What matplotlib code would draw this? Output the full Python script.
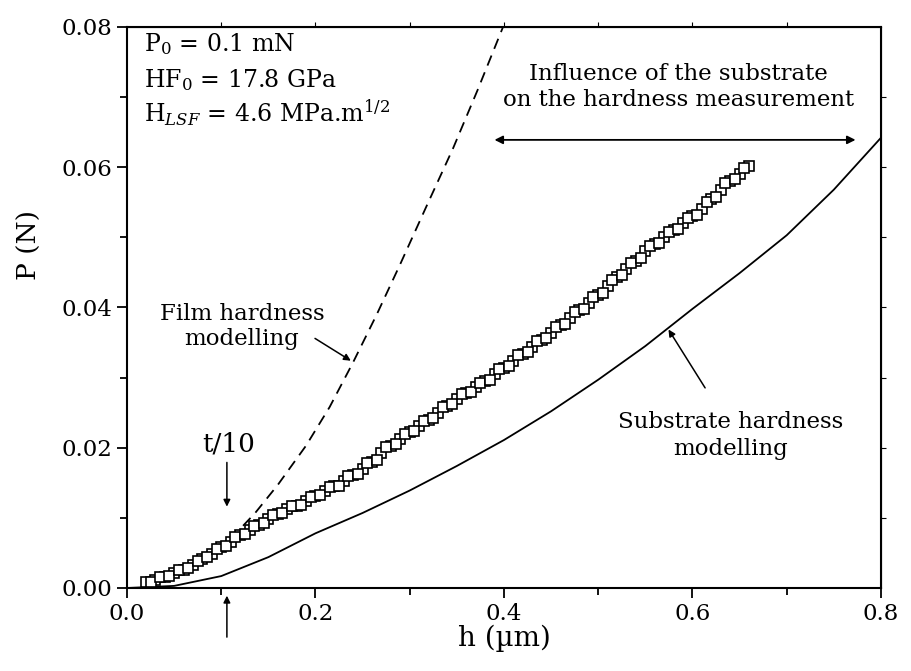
import matplotlib
matplotlib.use("Agg")
import matplotlib.pyplot as plt
import numpy as np

plt.rcParams['font.family'] = ['DejaVu Serif']
plt.rcParams['mathtext.fontset'] = 'dejavuserif'

# Datos experimentales (cuadrados)
h_exp = [0.02, 0.03, 0.04, 0.05, 0.06, 0.07, 0.08, 0.09, 0.10, 0.11,
         0.12, 0.13, 0.14, 0.15, 0.16, 0.17, 0.18, 0.19, 0.20, 0.21,
         0.22, 0.23, 0.24, 0.25, 0.26, 0.27, 0.28, 0.29, 0.30, 0.31,
         0.32, 0.33, 0.34, 0.35, 0.36, 0.37, 0.38, 0.39, 0.40, 0.41,
         0.42, 0.43, 0.44, 0.45, 0.46, 0.47, 0.48, 0.49, 0.50, 0.51,
         0.52, 0.53, 0.54, 0.55, 0.56, 0.57, 0.58, 0.59, 0.60, 0.61,
         0.62, 0.63, 0.64, 0.65, 0.66]
P_exp = [0.0008, 0.0012, 0.0016, 0.0021, 0.0026, 0.0033, 0.0041, 0.0049, 0.0058, 0.0066,
         0.0075, 0.0083, 0.0090, 0.0098, 0.0105, 0.0112, 0.0117, 0.0124, 0.0131, 0.0138,
         0.0145, 0.0152, 0.0161, 0.0170, 0.0180, 0.0193, 0.0203, 0.0212, 0.0222, 0.0231,
         0.0240, 0.0250, 0.0260, 0.0270, 0.0278, 0.0286, 0.0295, 0.0305, 0.0314, 0.0324,
         0.0334, 0.0344, 0.0354, 0.0364, 0.0375, 0.0385, 0.0396, 0.0407, 0.0418, 0.0430,
         0.0443, 0.0455, 0.0467, 0.0480, 0.0490, 0.0500, 0.0510, 0.0520, 0.0530, 0.0541,
         0.0555, 0.0568, 0.0580, 0.0591, 0.0602]
# segunda tanda de medidas (intercaladas)
h_exp2 = [0.025, 0.035, 0.045, 0.055, 0.065, 0.075, 0.085, 0.095, 0.105, 0.115,
          0.125, 0.135, 0.145, 0.155, 0.165, 0.175, 0.185, 0.195, 0.205, 0.215,
          0.225, 0.235, 0.245, 0.255, 0.265, 0.275, 0.285, 0.295, 0.305, 0.315,
          0.325, 0.335, 0.345, 0.355, 0.365, 0.375, 0.385, 0.395, 0.405, 0.415,
          0.425, 0.435, 0.445, 0.455, 0.465, 0.475, 0.485, 0.495, 0.505, 0.515,
          0.525, 0.535, 0.545, 0.555, 0.565, 0.575, 0.585, 0.595, 0.605, 0.615,
          0.625, 0.635, 0.645, 0.655]
P_exp2 = [0.0009, 0.0015, 0.0017, 0.0025, 0.0028, 0.0039, 0.0044, 0.0056, 0.0060, 0.0073,
          0.0077, 0.0089, 0.0092, 0.0104, 0.0107, 0.0117, 0.0119, 0.0130, 0.0132, 0.0144,
          0.0146, 0.0159, 0.0163, 0.0178, 0.0183, 0.0201, 0.0205, 0.0220, 0.0224, 0.0238,
          0.0242, 0.0258, 0.0262, 0.0277, 0.0279, 0.0293, 0.0297, 0.0312, 0.0316, 0.0332,
          0.0336, 0.0352, 0.0356, 0.0372, 0.0377, 0.0393, 0.0398, 0.0415, 0.0421, 0.0439,
          0.0446, 0.0464, 0.0470, 0.0488, 0.0492, 0.0508, 0.0512, 0.0528, 0.0532, 0.0551,
          0.0558, 0.0577, 0.0583, 0.0599]

# Modelo dureza de la pelicula (discontinua)
h_film = [0.11, 0.136, 0.16, 0.19, 0.215, 0.24, 0.265, 0.29, 0.318, 0.346, 0.372, 0.399]
P_film = [0.0070, 0.0107, 0.0147, 0.0203, 0.0258, 0.0322, 0.0390, 0.0462, 0.0545, 0.0627, 0.0710, 0.0800]

# Modelo dureza del sustrato (continua)
h_sub = [0.0, 0.05, 0.10, 0.15, 0.20, 0.25, 0.30, 0.35, 0.40, 0.45,
         0.50, 0.55, 0.60, 0.65, 0.70, 0.75, 0.80]
P_sub = [0.0, 0.0003, 0.0017, 0.0044, 0.0078, 0.0107, 0.0139, 0.0174, 0.0211, 0.0252,
         0.0297, 0.0345, 0.0398, 0.0449, 0.0503, 0.0568, 0.0642]

fig = plt.figure(figsize=(9.11, 6.71), dpi=100)
ax = fig.add_axes([0.1394, 0.1237, 0.8276, 0.8361])

ax.plot(h_sub, P_sub, color="black", lw=1.3)
ax.plot(h_film, P_film, color="black", lw=1.3, dashes=(6, 4))
ax.plot(h_exp, P_exp, ls="none", marker="s", ms=7.5, mfc="white", mec="black", mew=1.2)
ax.plot(h_exp2, P_exp2, ls="none", marker="s", ms=7.5, mfc="white", mec="black", mew=1.2)

ax.set_xlim(0, 0.8)
ax.set_ylim(0, 0.08)
ax.set_xticks([0.0, 0.2, 0.4, 0.6, 0.8])
ax.set_xticklabels(["0.0", "0.2", "0.4", "0.6", "0.8"])
ax.set_yticks([0.0, 0.02, 0.04, 0.06, 0.08])
ax.set_yticklabels(["0.00", "0.02", "0.04", "0.06", "0.08"])
ax.set_xticks(np.arange(0.1, 0.8, 0.2), minor=True)
ax.set_yticks(np.arange(0.01, 0.08, 0.02), minor=True)
ax.tick_params(which="both", direction="out", labelsize=16.5, width=1.3)
ax.tick_params(which="major", length=7)
ax.tick_params(which="minor", length=5)
# ticks hacia dentro arriba y a la derecha
ax.secondary_xaxis("top").set_xticks([0.1, 0.2, 0.3, 0.4, 0.5, 0.6, 0.7], labels=[])
ax.secondary_yaxis("right").set_yticks([0.01, 0.02, 0.03, 0.04, 0.05, 0.06, 0.07], labels=[])
for sec in fig.axes[1:]:
    sec.tick_params(direction="in", length=6, width=1.3)
    for s in sec.spines.values():
        s.set_linewidth(1.5)
for s in ax.spines.values():
    s.set_linewidth(1.5)

ax.set_xlabel("h (µm)", fontsize=20, labelpad=0)
ax.set_ylabel("P (N)", fontsize=19)
ax.yaxis.set_label_coords(-0.113, 0.611)

ax.text(0.018, 0.0776, r"P$_0$ = 0.1 mN", fontsize=17, va="center")
ax.text(0.018, 0.0725, r"HF$_0$ = 17.8 GPa", fontsize=17, va="center")
ax.text(0.018, 0.0677, r"H$_{LSF}$ = 4.6 MPa.m$^{1/2}$", fontsize=17, va="center")

ax.text(0.585, 0.0714, "Influence of the substrate\non the hardness measurement",
        fontsize=16.5, ha="center", va="center", linespacing=1.25)
ax.annotate("", xy=(0.387, 0.0639), xytext=(0.776, 0.0639),
            arrowprops=dict(arrowstyle="<|-|>", color="black", lw=1.3, mutation_scale=12))

ax.text(0.122, 0.0373, "Film hardness\nmodelling", fontsize=16.5, ha="center", va="center",
        linespacing=1.2)
ax.annotate("", xy=(0.240, 0.0322), xytext=(0.197, 0.0358),
            arrowprops=dict(arrowstyle="-|>", color="black", lw=1.1, mutation_scale=10))

ax.text(0.641, 0.0217, "Substrate hardness\nmodelling", fontsize=16.5, ha="center", va="center",
        linespacing=1.3)
ax.annotate("", xy=(0.573, 0.0372), xytext=(0.615, 0.0282),
            arrowprops=dict(arrowstyle="-|>", color="black", lw=1.1, mutation_scale=10))

ax.text(0.080, 0.0194, "t/10", fontsize=19, ha="left", va="baseline")
ax.annotate("", xy=(0.106, 0.0112), xytext=(0.106, 0.0183),
            arrowprops=dict(arrowstyle="-|>", color="black", lw=1.1, mutation_scale=10))
ax.annotate("", xy=(0.106, -0.0007), xytext=(0.106, -0.0074),
            arrowprops=dict(arrowstyle="-|>", color="black", lw=1.1, mutation_scale=10),
            annotation_clip=False)

fig.savefig("out.png", dpi=100)
